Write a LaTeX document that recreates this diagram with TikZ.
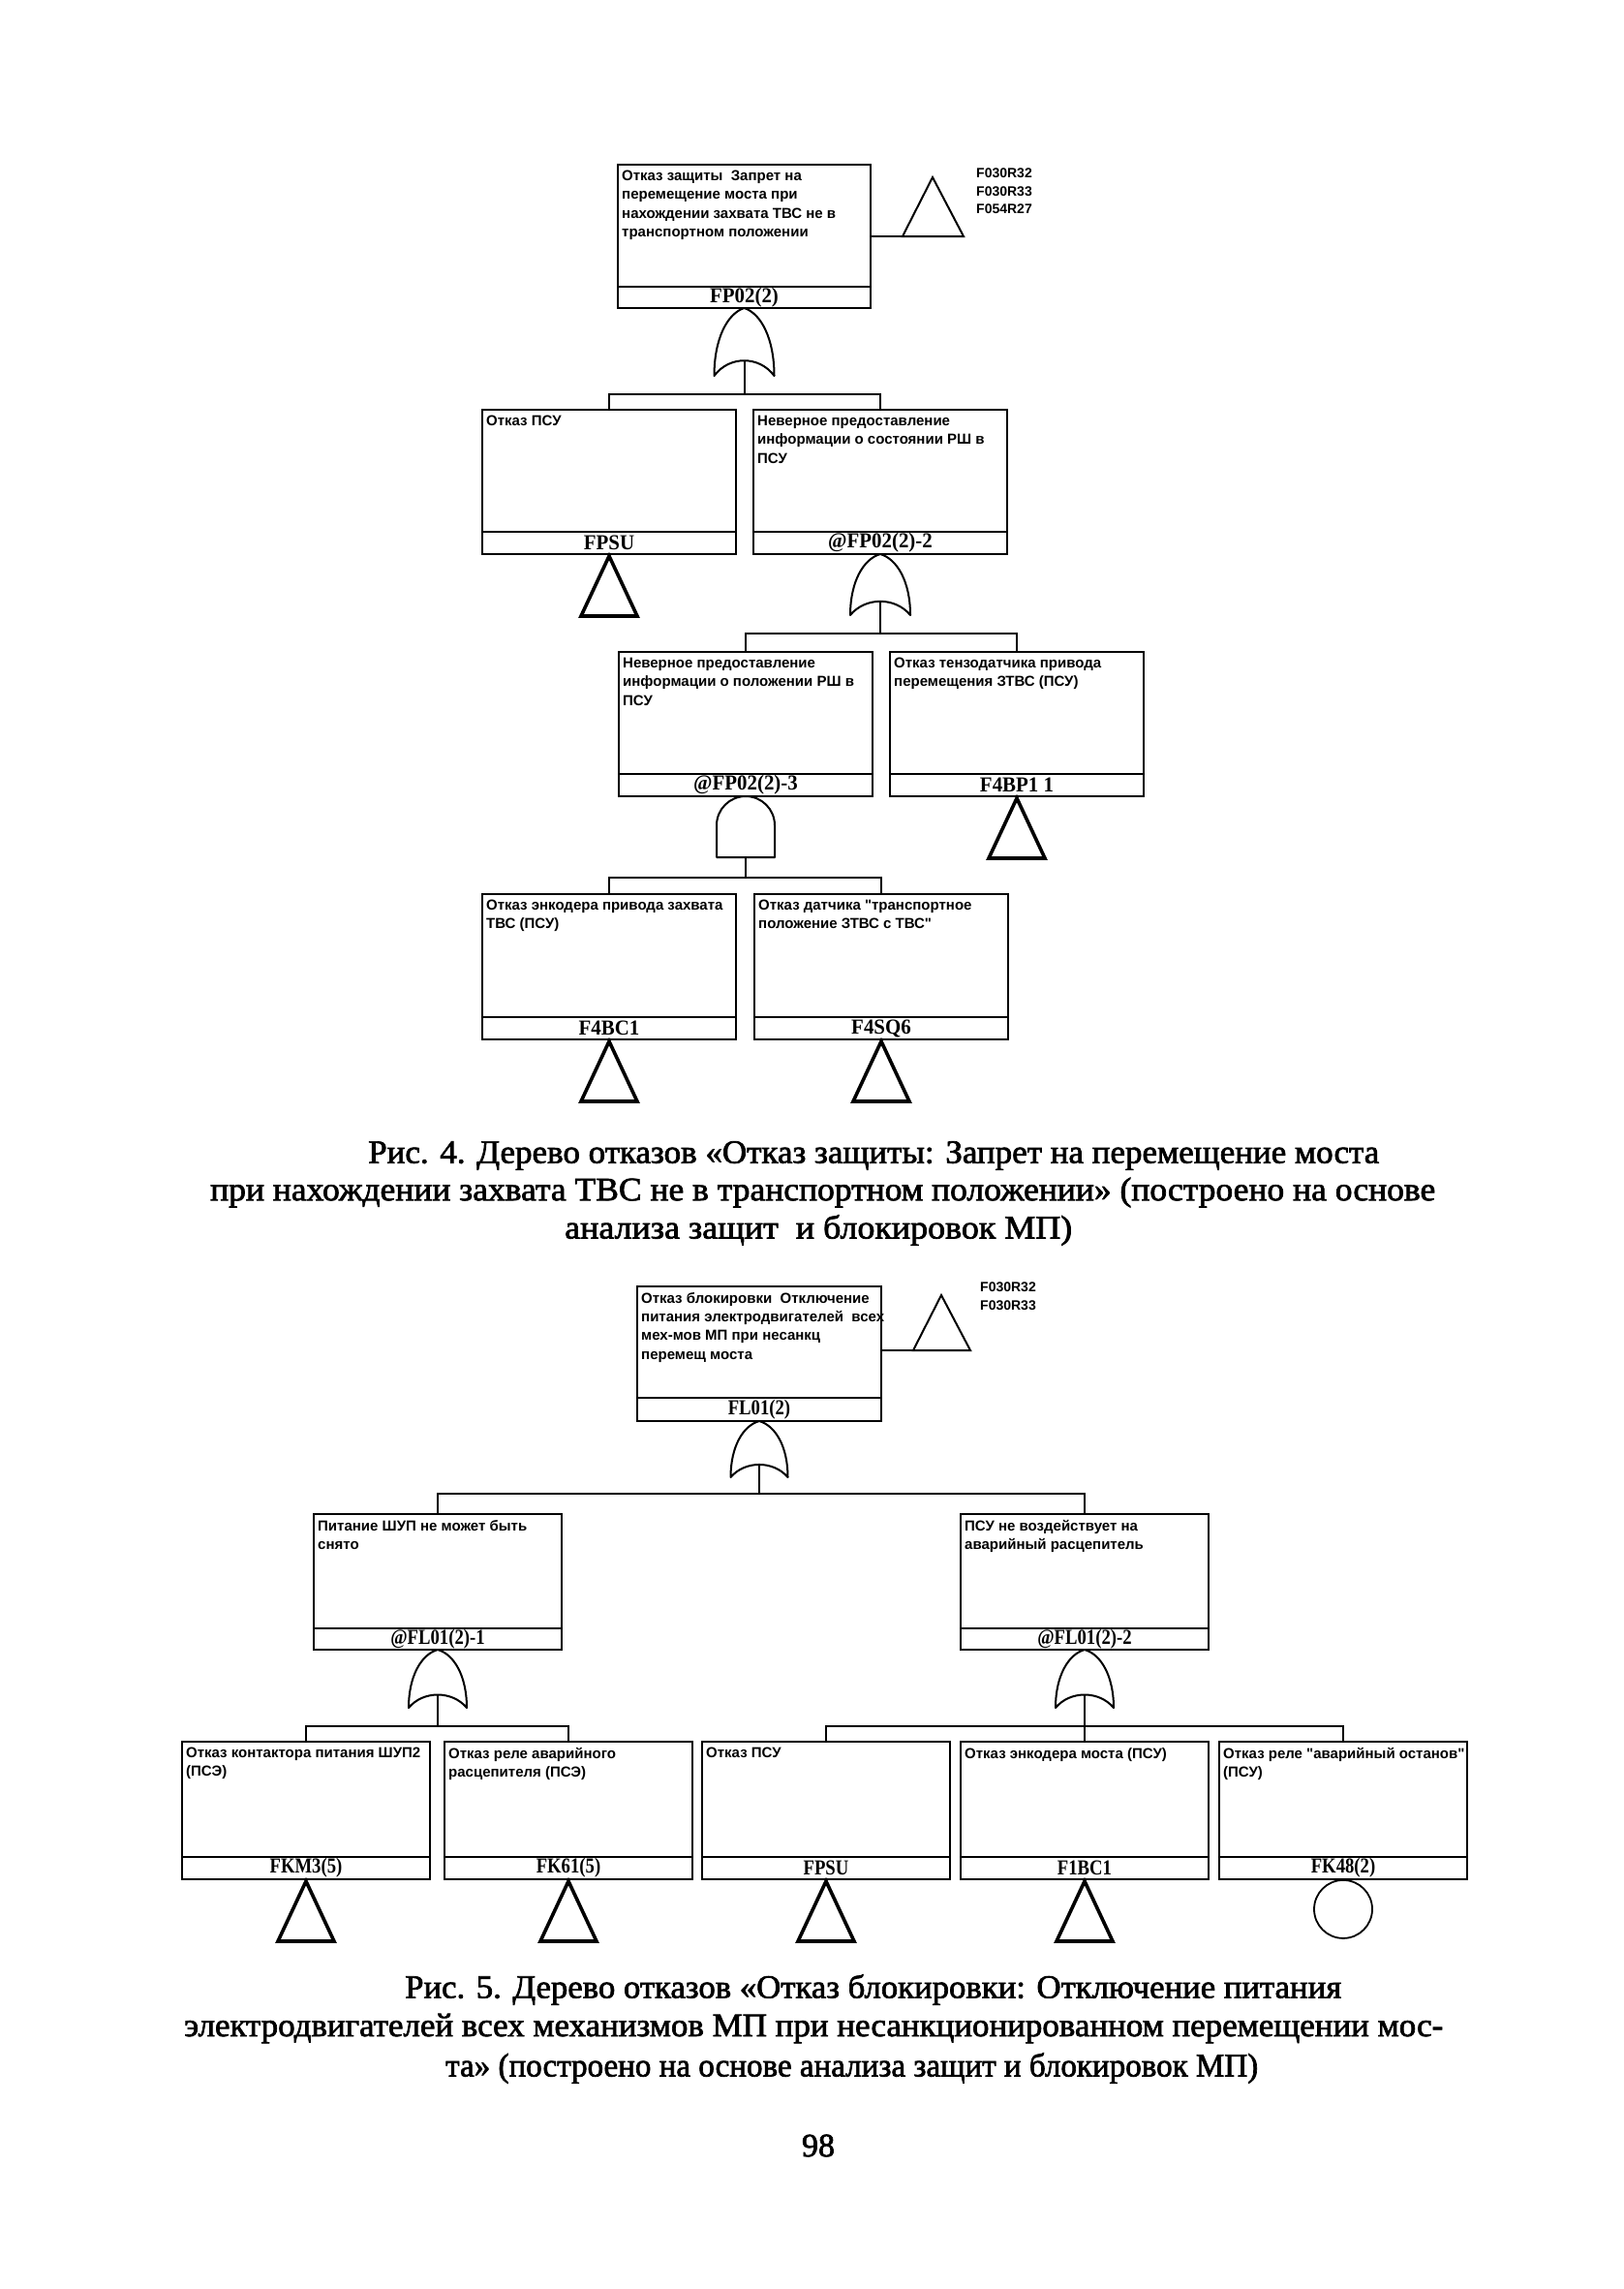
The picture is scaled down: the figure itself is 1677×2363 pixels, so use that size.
\documentclass[tikz,border=0pt]{standalone}
\usepackage{fontspec}
\setmainfont{Liberation Serif}
\newfontfamily\boxfont{Liberation Sans}
\newfontfamily\capfont[FakeBold=2]{Liberation Serif}
\usepackage{graphicx}
\def\lblsx{0.95}
\tikzset{
  evbox/.style={draw, line width=2.2pt, inner sep=0pt, outer sep=0pt},
  evtext/.style={font=\boxfont\bfseries\fontsize{15}{19.3}\selectfont, align=left, inner sep=0pt, anchor=north west},
  evlabel/.style={draw, line width=2.2pt, inner sep=0pt, outer sep=0pt, font=\bfseries\fontsize{22}{22}\selectfont},
  conn/.style={line width=2pt},
  gateline/.style={line width=2pt, line join=round, line cap=round},
  xfer/.style={line width=3.6pt, line join=miter},
  thintri/.style={line width=2pt, line join=miter},
  refs/.style={font=\boxfont\bfseries\fontsize{14}{18.5}\selectfont, align=left, inner sep=0pt, anchor=north west},
  capline/.style={font=\capfont\fontsize{34}{39}\selectfont, inner sep=0pt, anchor=west},
}
\newcommand\EvBox[8]{%
  \node[evbox, minimum width=#4pt, minimum height=#5pt, anchor=north west] (#1) at (#2,#3) {};
  \node[evlabel, minimum width=#4pt, minimum height=#6pt, anchor=south] (#1-id) at (#1.south) {\scalebox{\lblsx}[1]{#8}};
  \node[evtext] (#1-tx) at ([xshift=4pt,yshift=-6pt]#1.north west) {#7};
}
\newcommand\OrGate[5]{%
  \coordinate (#1-in) at (#2,#3);
  \coordinate (#1-out) at (#2,#3+0.775*#5);
  \draw[gateline] (#1-in) .. controls (#2+0.28*#4,#3+0.08*#5) and (#2+0.5*#4,#3+0.45*#5) .. (#2+0.5*#4,#3+#5)
     .. controls (#2+0.25*#4,#3+0.7*#5) and (#2-0.25*#4,#3+0.7*#5) .. (#2-0.5*#4,#3+#5)
     .. controls (#2-0.5*#4,#3+0.45*#5) and (#2-0.28*#4,#3+0.08*#5) .. (#1-in);
}
\newcommand\AndGate[5]{%
  \coordinate (#1-in) at (#2,#3);
  \coordinate (#1-out) at (#2,#3+#5);
  \draw[gateline] (#2-0.5*#4,#3+#5) -- (#2-0.5*#4,#3+0.5*#4)
    .. controls (#2-0.5*#4,#3+0.224*#4) and (#2-0.276*#4,#3) .. (#1-in)
    .. controls (#2+0.276*#4,#3) and (#2+0.5*#4,#3+0.224*#4) .. (#2+0.5*#4,#3+0.5*#4)
    -- (#2+0.5*#4,#3+#5) -- cycle;
}
\newcommand\Xfer[2]{%
  \coordinate (#2) at ([yshift=-2pt]#1.south);
  \draw[xfer] (#2) -- ++(29,62) -- ++(-58,0) -- cycle;
}
\begin{document}
\begin{tikzpicture}[x=1pt,y=-1pt]
\fill[white] (0,0) rectangle (1677,2363);
\useasboundingbox (0,0) rectangle (1677,2363);

% ---------------- Tree 1 ----------------
\def\lblsx{0.95}
\EvBox{t1}{638}{170}{261}{148}{22}{Отказ защиты\ \ Запрет на\\перемещение моста при\\нахождении захвата ТВС не в\\транспортном положении}{FP02(2)}
\coordinate (t1r) at (932,244);
\draw[conn] (t1.east |- t1r) -- (t1r);
\draw[thintri] (t1r) -- (995,244) -- (963,183) -- cycle;
\node[refs] (t1refs) at (1008,174) {F030R32\\F030R33\\F054R27};

\OrGate{g1}{768.5}{318}{62}{70}
\EvBox{e2a}{498}{423}{262}{149}{23}{Отказ ПСУ}{FPSU}
\EvBox{e2b}{778}{423}{262}{149}{23}{Неверное предоставление\\информации о состоянии РШ в\\ПСУ}{@FP02(2)-2}
\coordinate (b1) at (768.5,407);
\draw[conn] (g1-out) -- (b1);
\draw[conn] (e2a.north) -- (e2a.north |- b1) -- (e2b.north |- b1) -- (e2b.north);
\Xfer{e2a}{x2a}

\OrGate{g2}{909}{572}{62}{63}
\EvBox{e3a}{639}{673}{262}{149}{23}{Неверное предоставление\\информации о положении РШ в\\ПСУ}{@FP02(2)-3}
\EvBox{e3b}{919}{673}{262}{149}{23}{Отказ тензодатчика привода\\перемещения ЗТВС (ПСУ)}{F4BP1 1}
\coordinate (b2) at (909,654);
\draw[conn] (g2-out) -- (b2);
\draw[conn] (e3a.north) -- (e3a.north |- b2) -- (e3b.north |- b2) -- (e3b.north);
\Xfer{e3b}{x3b}

\AndGate{g3}{770}{822}{60}{63}
\EvBox{e4a}{498}{923}{262}{150}{23}{Отказ энкодера привода захвата\\ТВС (ПСУ)}{F4BC1}
\EvBox{e4b}{779}{923}{262}{150}{23}{Отказ датчика "транспортное\\положение ЗТВС с ТВС"}{F4SQ6}
\coordinate (b3) at (770,906);
\draw[conn] (g3-out) -- (b3);
\draw[conn] (e4a.north) -- (e4a.north |- b3) -- (e4b.north |- b3) -- (e4b.north);
\Xfer{e4a}{x4a}
\Xfer{e4b}{x4b}

\node[capline] (cap1a) at (380,1193) {\resizebox{1044pt}{\height}{Рис. 4. Дерево отказов «Отказ защиты: Запрет на перемещение моста}};
\node[capline] (cap1b) at (217,1231) {\resizebox{1265pt}{\height}{при нахождении захвата ТВС не в транспортном положении» (построено на основе}};
\node[capline] (cap1c) at (583,1270) {\resizebox{524pt}{\height}{анализа защит\ \ и блокировок МП)}};

% ---------------- Tree 2 ----------------
\def\lblsx{0.85}
\EvBox{t2}{658}{1328}{252}{139}{24}{Отказ блокировки\ \ Отключение\\питания электродвигателей\ \ всех\\мех-мов МП при несанкц\\перемещ моста}{FL01(2)}
\coordinate (t2r) at (943,1394);
\draw[conn] (t2.east |- t2r) -- (t2r);
\draw[thintri] (t2r) -- (1002,1394) -- (972,1337) -- cycle;
\node[refs] (t2refs) at (1012,1324) {F030R32\\F030R33};

\OrGate{h1}{784}{1467}{59}{58}
\EvBox{f2a}{324}{1563}{256}{140}{22}{Питание ШУП не может быть\\снято}{@FL01(2)-1}
\EvBox{f2b}{992}{1563}{256}{140}{22}{ПСУ не воздействует на\\аварийный расцепитель}{@FL01(2)-2}
\coordinate (c1) at (784,1542);
\draw[conn] (h1-out) -- (c1);
\draw[conn] (f2a.north) -- (f2a.north |- c1) -- (f2b.north |- c1) -- (f2b.north);

\OrGate{h2}{452}{1703}{60}{60}
\OrGate{h3}{1120}{1703}{60}{60}
\EvBox{f3a}{188}{1798}{256}{142}{23}{Отказ контактора питания ШУП2\\(ПСЭ)}{FKM3(5)}
\EvBox{f3b}{459}{1798}{256}{142}{23}{Отказ реле аварийного\\расцепителя (ПСЭ)}{FK61(5)}
\EvBox{f3c}{725}{1798}{256}{142}{23}{Отказ ПСУ}{FPSU}
\EvBox{f3d}{992}{1798}{256}{142}{23}{Отказ энкодера моста (ПСУ)}{F1BC1}
\EvBox{f3e}{1259}{1798}{256}{142}{23}{Отказ реле "аварийный останов"\\(ПСУ)}{FK48(2)}
\coordinate (c2) at (452,1782);
\coordinate (c3) at (1120,1782);
\draw[conn] (h2-out) -- (c2);
\draw[conn] (h3-out) -- (c3);
\draw[conn] (f3a.north) -- (f3a.north |- c2) -- (f3b.north |- c2) -- (f3b.north);
\draw[conn] (f3c.north) -- (f3c.north |- c3) -- (f3e.north |- c3) -- (f3e.north);
\draw[conn] (f3d.north |- c3) -- (f3d.north);
\Xfer{f3a}{x3a}
\Xfer{f3b}{x3bb}
\Xfer{f3c}{x3c}
\Xfer{f3d}{x3d}
\node[draw, circle, line width=1.8pt, minimum size=60pt, inner sep=0pt, anchor=north] (f3e-c) at (f3e.south) {};

\node[capline] (cap2a) at (418,2054) {\resizebox{967pt}{\height}{Рис. 5. Дерево отказов «Отказ блокировки: Отключение питания}};
\node[capline] (cap2b) at (190,2094) {\resizebox{1300pt}{\height}{электродвигателей всех механизмов МП при несанкционированном перемещении мос-}};
\node[capline] (cap2c) at (460,2135) {\resizebox{839pt}{\height}{та» (построено на основе анализа защит и блокировок МП)}};
\node[font=\capfont\fontsize{34}{34}\selectfont, inner sep=0pt] (pg) at (845,2215) {98};
\end{tikzpicture}
\end{document}
